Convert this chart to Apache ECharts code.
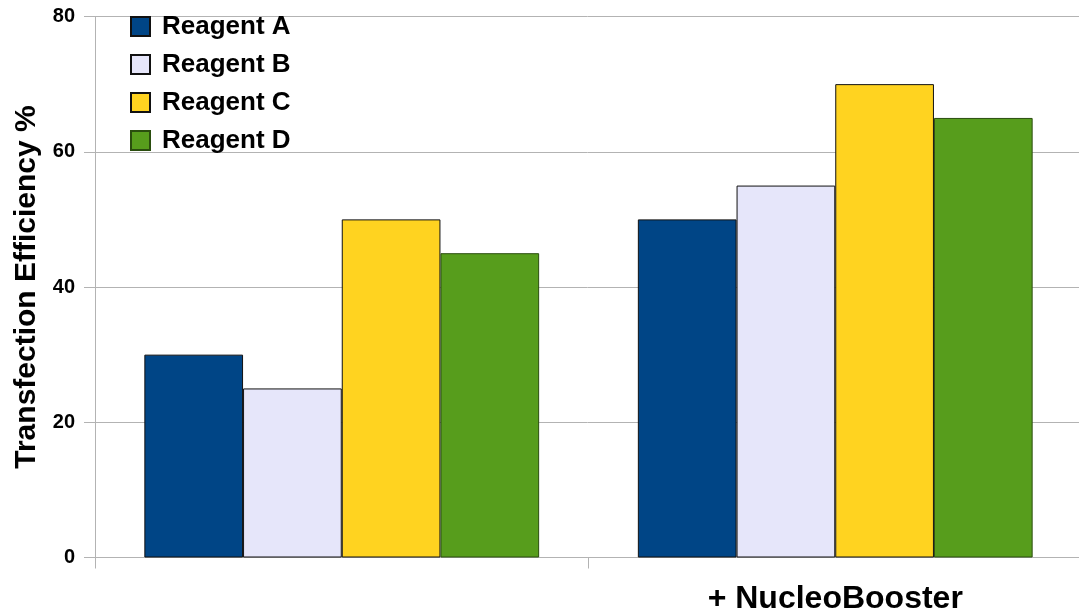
<!DOCTYPE html>
<html>
<head>
<meta charset="utf-8">
<script src="https://cdn.jsdelivr.net/npm/echarts@6/dist/echarts.min.js"></script>
<style>
  html, body { margin: 0; padding: 0; background: #ffffff; }
  #chart { width: 1079px; height: 614px; }
</style>
</head>
<body>
<div id="chart"></div>
<script>
// Transfection efficiency (%) per reagent, without and with NucleoBooster
const categories = ['', '+ NucleoBooster'];
const reagentA = [30, 50];
const reagentB = [25, 55];
const reagentC = [50, 70];
const reagentD = [45, 65];
const seriesNames = ['Reagent A', 'Reagent B', 'Reagent C', 'Reagent D'];
const yTicks = [0, 20, 40, 60, 80];

const fills = ['#004586', '#e6e6fa', '#ffd320', '#579d1c'];
const edges = ['#111111', '#111111', '#111111', '#2a4d0e'];
const gray = '#b3b3b3';
const font = '"Liberation Sans", Arial, sans-serif';

const values = [reagentA, reagentB, reagentC, reagentD];

const chart = echarts.init(document.getElementById('chart'), null, { renderer: 'canvas' });

chart.setOption({
  animation: false,
  backgroundColor: '#ffffff',
  grid: {
    left: 95, right: -3, top: 16.5, bottom: 56.5,
    containLabel: false, outerBoundsMode: 'none'
  },
  legend: {
    orient: 'vertical',
    left: 125,
    top: 8,
    itemWidth: 19,
    itemHeight: 19,
    itemGap: 11,
    icon: 'rect',
    data: seriesNames,
    textStyle: {
      fontFamily: font, fontWeight: 'bold', fontSize: 26, color: '#000000',
      lineHeight: 19, padding: [8, 0, 0, 7]
    }
  },
  xAxis: {
    type: 'category',
    data: categories,
    axisLine: { show: true, lineStyle: { color: gray, width: 1 } },
    axisTick: { show: true, length: 11, lineStyle: { color: gray } },
    axisLabel: {
      fontFamily: font, fontWeight: 'bold', fontSize: 32, color: '#000000', margin: 26
    },
    splitLine: { show: false }
  },
  yAxis: {
    type: 'value',
    min: yTicks[0],
    max: yTicks[yTicks.length - 1],
    interval: 20,
    name: 'Transfection Efficiency %',
    nameLocation: 'middle',
    nameGap: 51,
    nameTextStyle: { fontFamily: font, fontWeight: 'bold', fontSize: 30, color: '#000000' },
    axisLine: { show: true, lineStyle: { color: gray, width: 1 } },
    axisTick: { show: true, length: 11, lineStyle: { color: gray } },
    axisLabel: { fontFamily: font, fontWeight: 'bold', fontSize: 20, color: '#000000', margin: 20 },
    splitLine: { show: true, lineStyle: { color: gray, width: 1 } }
  },
  series: seriesNames.map((name, i) => ({
    name: name,
    type: 'bar',
    data: values[i],
    barGap: '0%',
    barCategoryGap: '20%',
    itemStyle: { color: fills[i], borderColor: edges[i], borderWidth: 1 }
  }))
});
</script>
</body>
</html>
